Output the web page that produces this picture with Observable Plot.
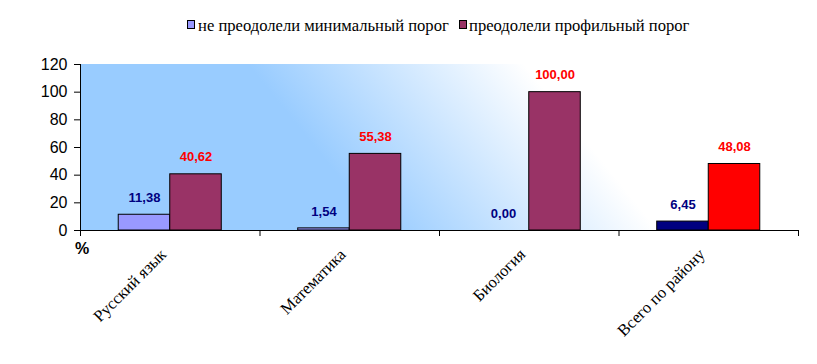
<!DOCTYPE html>
<html>
<head>
<meta charset="utf-8">
<script src="https://cdn.jsdelivr.net/npm/d3@7"></script>
<script src="https://cdn.jsdelivr.net/npm/@observablehq/plot@0.6"></script>
<style>
  html, body { margin: 0; padding: 0; background: #ffffff; }
  #legend { position: relative; height: 48px; width: 817px; font-family: "Liberation Serif", serif; font-size: 16.6px; line-height: 19px; color: #000; }
  #legend .sw { position: absolute; top: 20px; width: 6px; height: 7px; border: 1px solid #000; }
  #legend .tx { position: absolute; top: 16px; white-space: nowrap; }
  #chart svg { display: block; }
</style>
</head>
<body>
<div id="legend"></div>
<div id="chart"></div>
<script>
// ---- data ----
const categories = ["Русский язык", "Математика", "Биология", "Всего по району"];
const seriesNames = ["не преодолели минимальный порог", "преодолели профильный порог"];
const notPassedMin = [11.38, 1.54, 0.00, 6.45];
const passedProfile = [40.62, 55.38, 100.00, 48.08];
const yTicks = [0, 20, 40, 60, 80, 100, 120];
const legendColors = ["#9999ff", "#993366"];
const barFills = [
  ["#9999ff", "#9999ff", "#9999ff", "#000080"],
  ["#993366", "#993366", "#993366", "#ff0000"]
];
const labelColors = ["#000080", "#ff0000"];

// ---- table ----
const seriesValues = [notPassedMin, passedProfile];
const rows = [];
seriesValues.forEach((vals, s) => {
  vals.forEach((v, i) => {
    rows.push({cat: categories[i], i, s, value: v, fill: barFills[s][i], labelFill: labelColors[s]});
  });
});
const catRows = categories.map((c, i) => ({cat: c, i}));
const barW = 0.287; // bar width as fraction of a category band

// ---- legend ----
const legend = document.getElementById("legend");
const swatchX = [187, 459];
const textX = [198, 469];
seriesNames.forEach((name, s) => {
  const sw = document.createElement("span");
  sw.className = "sw";
  sw.style.left = swatchX[s] + "px";
  sw.style.background = legendColors[s];
  const tx = document.createElement("span");
  tx.className = "tx";
  tx.style.left = textX[s] + "px";
  tx.textContent = name;
  legend.appendChild(sw);
  legend.appendChild(tx);
});

// ---- background gradient mark ----
function background(index, scales, values, dims) {
  const x0 = dims.marginLeft, x1 = dims.width - dims.marginRight;
  const y0 = dims.marginTop, y1 = dims.height - dims.marginBottom;
  const w = x1 - x0, h = y1 - y0;
  const g = d3.create("svg:g");
  const grad = g.append("defs").append("linearGradient")
    .attr("id", "bggrad")
    .attr("gradientUnits", "userSpaceOnUse")
    .attr("x1", x0 + 0.327 * w).attr("y1", y0 + 0.5 * h)
    .attr("x2", x0 + 0.56 * w).attr("y2", y0 - 0.313 * h);
  grad.append("stop").attr("offset", 0).attr("stop-color", "#99ccff");
  grad.append("stop").attr("offset", 1).attr("stop-color", "#ffffff");
  g.append("rect").attr("x", x0).attr("y", y0).attr("width", w).attr("height", h)
    .attr("fill", "url(#bggrad)");
  return g.node();
}

const chart = Plot.plot({
  width: 817,
  height: 316,
  marginTop: 16,
  marginBottom: 134,
  marginLeft: 80,
  marginRight: 19,
  style: {fontFamily: "Liberation Sans, Arial, sans-serif", color: "#000", background: "transparent"},
  x: {type: "linear", domain: [0, categories.length], axis: null},
  y: {domain: [0, 120], axis: null},
  color: {type: "identity"},
  marks: [
    background,
    Plot.rectY(rows, {
      x1: d => d.i + 0.5 + (d.s - 1) * barW,
      x2: d => d.i + 0.5 + d.s * barW,
      y1: 0,
      y2: "value",
      fill: "fill",
      stroke: "#000",
      strokeWidth: 1
    }),
    Plot.ruleY([0], {stroke: "#000", strokeWidth: 1}),
    Plot.ruleX([0], {stroke: "#000", strokeWidth: 1}),
    Plot.axisY({ticks: yTicks, tickSize: 6, tickPadding: 7, fontSize: 16, label: null, tickFormat: d => String(d)}),
    Plot.axisX({ticks: d3.range(categories.length + 1), tickSize: 6, tickFormat: () => "", label: null}),
    Plot.text(rows, {
      x: d => d.i + 0.5 + (d.s - 0.5) * barW,
      y: "value",
      text: d => d.value.toFixed(2).replace(".", ","),
      fill: "labelFill",
      dy: -17,
      fontSize: 13,
      fontWeight: "bold",
      fontFamily: "Liberation Sans, Arial, sans-serif"
    }),
    Plot.text(catRows, {
      x: d => d.i + 0.5,
      frameAnchor: "bottom",
      text: "cat",
      rotate: -45,
      textAnchor: "end",
      lineAnchor: "bottom",
      dx: -3,
      dy: 25,
      fontSize: 16.5,
      fontFamily: "Liberation Serif, serif",
      fill: "#000"
    }),
    Plot.text(["%"], {
      frameAnchor: "bottom-left",
      text: d => d,
      textAnchor: "middle",
      dx: 1.5,
      dy: 23,
      fontSize: 16,
      fontWeight: "bold",
      fill: "#000"
    })
  ]
});
document.getElementById("chart").appendChild(chart);
</script>
</body>
</html>
